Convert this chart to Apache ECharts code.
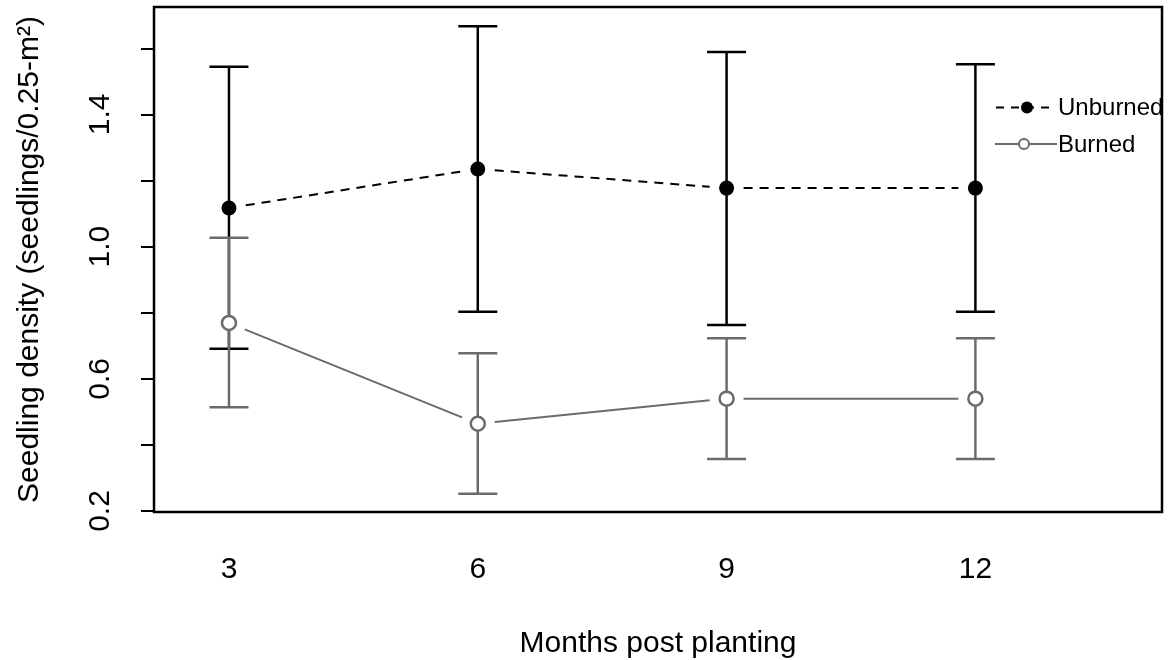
<!DOCTYPE html>
<html>
<head>
<meta charset="utf-8">
<script src="https://cdn.jsdelivr.net/npm/echarts@6/dist/echarts.min.js"></script>
<style>
html,body{margin:0;padding:0;background:#fff;}
#chart{width:1176px;height:660px;}
</style>
</head>
<body>
<div id="chart"></div>
<script>
// ---- data ----
const months = [3, 6, 9, 12];
const unburnedMean  = [1.117, 1.235, 1.177, 1.177];
const unburnedUpper = [1.544, 1.667, 1.589, 1.552];
const unburnedLower = [0.691, 0.803, 0.763, 0.803];
const burnedMean    = [0.769, 0.464, 0.540, 0.540];
const burnedUpper   = [1.027, 0.677, 0.723, 0.723];
const burnedLower   = [0.514, 0.252, 0.357, 0.357];
const yTickValues   = [0.2, 0.4, 0.6, 0.8, 1.0, 1.2, 1.4, 1.6];
const yLabelValues  = [0.2, 0.6, 1.0, 1.4];
const xLabelValues  = [3, 6, 9, 12];
const seriesNames   = ['Unburned', 'Burned'];

const BLACK = '#000000';
const GRAY = '#6b6b6b';
const FONT = 'Liberation Sans, Arial, sans-serif';

function errorBarSeries(name, lower, upper, color, z) {
  return {
    type: 'custom', name: name, z: z, silent: true,
    data: months.map((m, i) => [m, lower[i], upper[i]]),
    renderItem: function (params, api) {
      const x = api.value(0);
      const lo = api.coord([x, api.value(1)]);
      const hi = api.coord([x, api.value(2)]);
      const hw = 19.5;
      const st = { stroke: color, lineWidth: 2.5 };
      return { type: 'group', children: [
        { type: 'line', shape: { x1: lo[0], y1: lo[1], x2: hi[0], y2: hi[1] }, style: st },
        { type: 'line', shape: { x1: lo[0] - hw, y1: lo[1], x2: lo[0] + hw, y2: lo[1] }, style: st },
        { type: 'line', shape: { x1: hi[0] - hw, y1: hi[1], x2: hi[0] + hw, y2: hi[1] }, style: st }
      ]};
    }
  };
}

function gapLineSeries(name, mean, color, dash, z) {
  const segs = [];
  for (let i = 0; i < months.length - 1; i++) segs.push([months[i], mean[i], months[i + 1], mean[i + 1]]);
  return {
    type: 'custom', name: name, z: z, silent: true,
    data: segs,
    renderItem: function (params, api) {
      const p1 = api.coord([api.value(0), api.value(1)]);
      const p2 = api.coord([api.value(2), api.value(3)]);
      const dx = p2[0] - p1[0], dy = p2[1] - p1[1];
      const len = Math.sqrt(dx * dx + dy * dy);
      const g = 17;
      const ux = dx / len, uy = dy / len;
      return {
        type: 'line',
        shape: { x1: p1[0] + ux * g, y1: p1[1] + uy * g, x2: p2[0] - ux * g, y2: p2[1] - uy * g },
        style: { stroke: color, lineWidth: 2, lineDash: dash }
      };
    }
  };
}

const chart = echarts.init(document.getElementById('chart'), null, { renderer: 'canvas' });
const option = {
  animation: false,
  backgroundColor: '#ffffff',
  textStyle: { fontFamily: FONT, color: BLACK },
  grid: {
    left: 154, right: 14, top: 7, bottom: 148,
    show: true, borderColor: BLACK, borderWidth: 2.5, backgroundColor: 'transparent',
    containLabel: false, outerBoundsMode: 'none'
  },
  xAxis: {
    type: 'value', min: 2.096, max: 14.25,
    axisLine: { show: false }, axisTick: { show: false }, splitLine: { show: false },
    axisLabel: { customValues: xLabelValues, fontSize: 30, color: BLACK, fontFamily: FONT, margin: 43 },
    name: 'Months post planting', nameLocation: 'middle', nameGap: 117,
    nameTextStyle: { fontSize: 30, color: BLACK, fontFamily: FONT }
  },
  yAxis: {
    type: 'value', min: 0.197, max: 1.725,
    axisLine: { show: false }, splitLine: { show: false },
    axisTick: { show: true, customValues: yTickValues, length: 13, lineStyle: { color: BLACK, width: 2 } },
    axisLabel: { customValues: yLabelValues, rotate: 90, fontSize: 30, color: BLACK, fontFamily: FONT, margin: 38,
      formatter: v => v.toFixed(1) },
    name: 'Seedling density (seedlings/0.25-m²)', nameLocation: 'middle', nameGap: 109, nameRotate: 90,
    nameTextStyle: { fontSize: 30, color: BLACK, fontFamily: FONT }
  },
  series: [
    errorBarSeries(seriesNames[0] + ' SE', unburnedLower, unburnedUpper, BLACK, 2),
    errorBarSeries(seriesNames[1] + ' SE', burnedLower, burnedUpper, GRAY, 3),
    gapLineSeries(seriesNames[0] + ' line', unburnedMean, BLACK, [9, 7], 4),
    gapLineSeries(seriesNames[1] + ' line', burnedMean, GRAY, null, 4),
    {
      type: 'scatter', name: seriesNames[0], z: 5, silent: true,
      data: months.map((m, i) => [m, unburnedMean[i]]),
      symbol: 'circle', symbolSize: 15,
      itemStyle: { color: BLACK, opacity: 1 }
    },
    {
      type: 'scatter', name: seriesNames[1], z: 5, silent: true,
      data: months.map((m, i) => [m, burnedMean[i]]),
      symbol: 'circle', symbolSize: 14,
      itemStyle: { color: '#ffffff', borderColor: GRAY, borderWidth: 2.5, opacity: 1 }
    }
  ],
  graphic: [
    { type: 'line', shape: { x1: 996, y1: 107.5, x2: 1052, y2: 107.5 }, style: { stroke: BLACK, lineWidth: 2, lineDash: [8, 7] }, z: 10 },
    { type: 'circle', shape: { cx: 1027, cy: 107.5, r: 6 }, style: { fill: BLACK }, z: 11 },
    { type: 'text', left: 1058, top: 96, style: { text: seriesNames[0], fontSize: 24, fontFamily: FONT, fill: BLACK }, z: 11 },
    { type: 'line', shape: { x1: 995, y1: 144, x2: 1057, y2: 144 }, style: { stroke: GRAY, lineWidth: 2 }, z: 10 },
    { type: 'circle', shape: { cx: 1024, cy: 144, r: 5 }, style: { fill: '#ffffff', stroke: GRAY, lineWidth: 2 }, z: 11 },
    { type: 'text', left: 1058, top: 133, style: { text: seriesNames[1], fontSize: 24, fontFamily: FONT, fill: BLACK }, z: 11 }
  ]
};
chart.setOption(option);
</script>
</body>
</html>
